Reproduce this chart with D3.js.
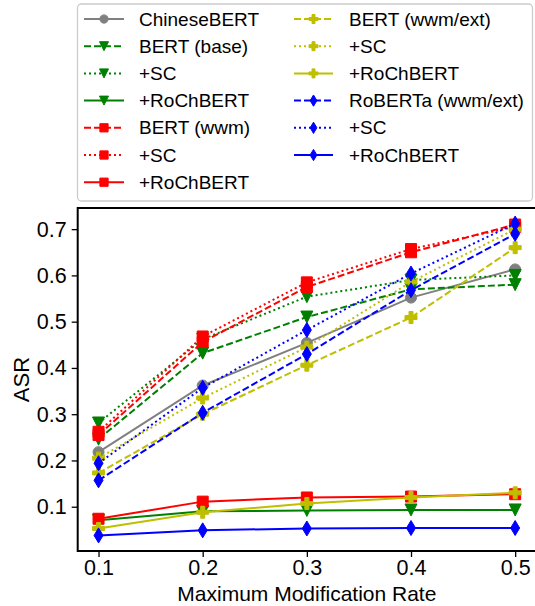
<!DOCTYPE html>
<html>
<head>
<meta charset="utf-8">
<script src="https://cdn.jsdelivr.net/npm/d3@7"></script>
<style>
  body { margin: 0; background: #fff; }
  text { font-family: "Liberation Sans", Arial, sans-serif; }
</style>
</head>
<body>
<script>
// Values
var rates = [0.1, 0.2, 0.3, 0.4, 0.5];
var yTicks = [0.1, 0.2, 0.3, 0.4, 0.5, 0.6, 0.7];

var chineseBert = [0.218, 0.362, 0.454, 0.552, 0.613];
var bertBase    = [0.246, 0.432, 0.510, 0.570, 0.580];
var bertBaseSC  = [0.281, 0.462, 0.554, 0.590, 0.600];
var bertBaseRo  = [0.071, 0.090, 0.092, 0.093, 0.093];
var bertWwm     = [0.255, 0.456, 0.575, 0.650, 0.710];
var bertWwmSC   = [0.262, 0.468, 0.585, 0.657, 0.705];
var bertWwmRo   = [0.074, 0.111, 0.120, 0.122, 0.127];
var bertExt     = [0.173, 0.300, 0.406, 0.509, 0.660];
var bertExtSC   = [0.205, 0.335, 0.445, 0.586, 0.700];
var bertExtRo   = [0.053, 0.088, 0.107, 0.120, 0.130];
var roberta     = [0.157, 0.303, 0.430, 0.568, 0.690];
var robertaSC   = [0.194, 0.357, 0.482, 0.604, 0.712];
var robertaRo   = [0.038, 0.049, 0.053, 0.054, 0.054];

var seriesNames = ["ChineseBERT", "BERT (base)", "+SC", "+RoChBERT",
  "BERT (wwm)", "+SC", "+RoChBERT", "BERT (wwm/ext)", "+SC", "+RoChBERT",
  "RoBERTa (wwm/ext)", "+SC", "+RoChBERT"];
var seriesValues = [chineseBert, bertBase, bertBaseSC, bertBaseRo,
  bertWwm, bertWwmSC, bertWwmRo, bertExt, bertExtSC, bertExtRo,
  roberta, robertaSC, robertaRo];

// Styling for each series
var styles = [
  {color: "#808080", dash: null, marker: "o"},
  {color: "#008000", dash: "7,3", marker: "v"},
  {color: "#008000", dash: "2,3", marker: "v"},
  {color: "#008000", dash: null, marker: "v"},
  {color: "#ff0000", dash: "7,3", marker: "s"},
  {color: "#ff0000", dash: "2,3", marker: "s"},
  {color: "#ff0000", dash: null, marker: "s"},
  {color: "#bfbf00", dash: "7,3", marker: "P"},
  {color: "#bfbf00", dash: "2,3", marker: "P"},
  {color: "#bfbf00", dash: null, marker: "P"},
  {color: "#0000ff", dash: "7,3", marker: "d"},
  {color: "#0000ff", dash: "2,3", marker: "d"},
  {color: "#0000ff", dash: null, marker: "d"}
];

var W = 535, H = 606;
var svg = d3.select("body").append("svg")
  .attr("width", W).attr("height", H);

var plot = {left: 77.7, right: 536, top: 208, bottom: 551};

var x = d3.scaleLinear().domain([0.08, 0.52]).range([plot.left, plot.right]);
var y = d3.scaleLinear().domain([0.0043, 0.7457]).range([plot.bottom, plot.top]);

// marker path at origin, s = scale
function markerPath(m, s) {
  var h;
  if (m === "o") {
    var r = 5.5 * s;
    return "M" + r + ",0A" + r + "," + r + " 0 1,1 " + (-r) + ",0A" + r + "," + r + " 0 1,1 " + r + ",0Z";
  }
  if (m === "s") {
    h = 5.5 * s;
    return "M" + (-h) + "," + (-h) + "H" + h + "V" + h + "H" + (-h) + "Z";
  }
  if (m === "v") {
    h = 6 * s;
    return "M0," + h + "L" + (-h) + "," + (-h) + "L" + h + "," + (-h) + "Z";
  }
  if (m === "d") {
    h = 7.5 * s;
    var w = 0.6 * h;
    return "M0," + (-h) + "L" + w + ",0L0," + h + "L" + (-w) + ",0Z";
  }
  if (m === "P") {
    h = 6 * s;
    var a = h / 3;
    return "M" + (-a) + "," + (-h) + "H" + a + "V" + (-a) + "H" + h + "V" + a + "H" + a + "V" + h +
      "H" + (-a) + "V" + a + "H" + (-h) + "V" + (-a) + "H" + (-a) + "Z";
  }
}

var g = svg.append("g");

// Lines and markers
var line = d3.line()
  .x(function(d, i) { return x(rates[i]); })
  .y(function(d) { return y(d); });

seriesValues.forEach(function(vals, k) {
  var st = styles[k];
  g.append("path")
    .datum(vals)
    .attr("d", line)
    .attr("fill", "none")
    .attr("stroke", st.color)
    .attr("stroke-width", 2)
    .attr("stroke-dasharray", st.dash);
  g.selectAll(".m" + k)
    .data(vals)
    .enter()
    .append("path")
      .attr("class", "m" + k)
      .attr("transform", function(d, i) { return "translate(" + x(rates[i]) + "," + y(d) + ")"; })
      .attr("d", markerPath(st.marker, 1))
      .attr("fill", st.color)
      .attr("stroke", st.color)
      .attr("stroke-width", 1);
});

// Axes
var xAxis = svg.append("g")
  .attr("transform", "translate(0," + plot.bottom + ")")
  .call(d3.axisBottom(x).tickValues(rates).tickSize(6).tickPadding(3).tickFormat(d3.format(".1f")));
var yAxis = svg.append("g")
  .attr("transform", "translate(" + plot.left + ",0)")
  .call(d3.axisLeft(y).tickValues(yTicks).tickSize(6).tickPadding(5).tickFormat(d3.format(".1f")));

[xAxis, yAxis].forEach(function(ax) {
  ax.select(".domain").remove();
  ax.selectAll(".tick line").attr("stroke", "#000").attr("stroke-width", 1.3);
  ax.selectAll(".tick text")
    .attr("fill", "#000")
    .style("font-size", "21.5px")
    .style("font-family", "'Liberation Sans', Arial, sans-serif");
});

// Frame
svg.append("rect")
  .attr("x", plot.left).attr("y", plot.top)
  .attr("width", plot.right - plot.left).attr("height", plot.bottom - plot.top)
  .attr("fill", "none").attr("stroke", "#000").attr("stroke-width", 2);

// Axis titles
svg.append("text")
  .attr("x", (plot.left + plot.right) / 2).attr("y", 601)
  .attr("text-anchor", "middle")
  .style("font-size", "21px")
  .text("Maximum Modification Rate");

svg.append("text")
  .attr("transform", "translate(29," + ((plot.top + plot.bottom) / 2) + ") rotate(-90)")
  .attr("text-anchor", "middle")
  .style("font-size", "22px")
  .text("ASR");

// Legend
var legend = svg.append("g");
legend.append("rect")
  .attr("x", 77.5).attr("y", 4)
  .attr("width", 455).attr("height", 197)
  .attr("rx", 4)
  .attr("fill", "#fff").attr("fill-opacity", 0.8)
  .attr("stroke", "#cccccc").attr("stroke-width", 1.3);

var cols = [{x0: 84, x1: 124, tx: 139}, {x0: 294, x1: 333, tx: 349}];
seriesNames.forEach(function(name, k) {
  var c = k < 7 ? cols[0] : cols[1];
  var row = k < 7 ? k : k - 7;
  var cy = 19 + row * 27.2;
  var st = styles[k];
  legend.append("line")
    .attr("x1", c.x0).attr("x2", c.x1)
    .attr("y1", cy).attr("y2", cy)
    .attr("stroke", st.color).attr("stroke-width", 2)
    .attr("stroke-dasharray", st.dash);
  legend.append("path")
    .attr("transform", "translate(" + ((c.x0 + c.x1) / 2) + "," + cy + ")")
    .attr("d", markerPath(st.marker, 0.75))
    .attr("fill", st.color).attr("stroke", st.color).attr("stroke-width", 1);
  legend.append("text")
    .attr("x", c.tx).attr("y", cy)
    .attr("dy", "0.35em")
    .style("font-size", "19px")
    .attr("fill", "#000")
    .text(name);
});
</script>
</body>
</html>
